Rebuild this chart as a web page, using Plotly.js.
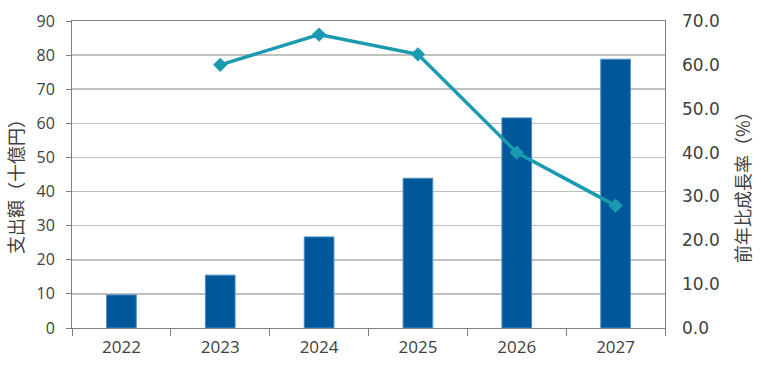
<!DOCTYPE html>
<html><head><meta charset="utf-8">
<script src="https://cdn.plot.ly/plotly-3.0.1.min.js"></script>
<style>body{margin:0;background:#fff}#c{width:761px;height:392px}</style>
</head><body><div id="c"></div>
<script>
const years = ["2022","2023","2024","2025","2026","2027"];
const spending = [9.7, 15.5, 26.7, 43.9, 61.6, 78.8];
const growthYears = ["2023","2024","2025","2026","2027"];
const growth = [60.0, 66.9, 62.4, 40.0, 27.9];
const leftTitle = "支出額（十億円）";
const rightTitle = "前年比成長率（%）";

const txt = "#404040";
const data = [
  {type: "bar", x: years, y: spending, width: 0.3,
   marker: {color: "#00589B", line: {color: "#4a8cc4", width: 1}}, yaxis: "y", hoverinfo: "none"},
  {type: "scatter", mode: "lines+markers", x: growthYears, y: growth, yaxis: "y2",
   line: {color: "#1A9AB0", width: 3.5}, marker: {symbol: "diamond", size: 11, color: "#1A9AB0"}, hoverinfo: "none"}
];
const layout = {
  width: 761, height: 392,
  margin: {l: 72, r: 96, t: 21, b: 64},
  paper_bgcolor: "#fff", plot_bgcolor: "#fff",
  showlegend: false,
  xaxis: {type: "category", tickson: "boundaries", ticks: "outside", ticklen: 7, tickcolor: "#808080",
    showline: true, linecolor: "#808080", linewidth: 1, mirror: true, showgrid: false,
    ticklabelstandoff: 4,
    tickfont: {family: "Open Sans, sans-serif", size: 17, color: txt}},
  yaxis: {range: [0, 90], dtick: 10, ticks: "outside", ticklen: 5, tickcolor: "#808080",
    showline: true, linecolor: "#808080", mirror: true, gridcolor: "#c0c0c0", gridwidth: 1.5,
    zeroline: false, ticklabelstandoff: 8,
    tickfont: {family: "Open Sans, sans-serif", size: 16, color: txt}},
  yaxis2: {range: [0, 70], dtick: 10, overlaying: "y", side: "right", tickformat: ".1f",
    showgrid: false, zeroline: false, ticks: "", showline: false, ticklabelstandoff: 16,
    tickfont: {family: "DejaVu Sans, sans-serif", size: 17, color: txt}},
  annotations: [
    {text: leftTitle, xref: "paper", yref: "paper", x: (15-72)/593, y: (328-182)/307, textangle: -90,
     showarrow: false, xanchor: "center", yanchor: "middle",
     font: {family: "Noto Sans CJK JP", size: 18, color: txt}},
    {text: rightTitle, xref: "paper", yref: "paper", x: (742-72)/593, y: (328-183)/307, textangle: -90,
     showarrow: false, xanchor: "center", yanchor: "middle",
     font: {family: "Noto Sans CJK JP", size: 18, color: txt}}
  ]
};
Plotly.newPlot("c", data, layout, {staticPlot: true});
</script></body></html>
